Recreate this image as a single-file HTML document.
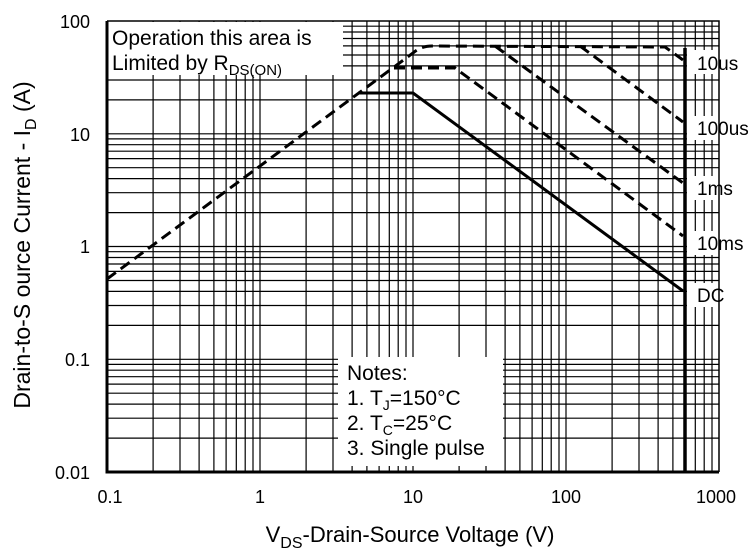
<!DOCTYPE html>
<html><head><meta charset="utf-8"><style>
html,body{margin:0;padding:0;background:#fff;}
svg{display:block;font-family:"Liberation Sans",Arial,sans-serif;}
</style></head><body>
<svg width="755" height="553" viewBox="0 0 755 553" xmlns="http://www.w3.org/2000/svg">
<g stroke="#000" stroke-width="1.2" fill="none">
<path d="M153.1 21V472M180 21V472M199.1 21V472M213.9 21V472M226.1 21V472M236.3 21V472M245.2 21V472M253 21V472
M260 21V472M306.1 21V472M333 21V472M352.1 21V472M366.9 21V472M379.1 21V472M389.3 21V472M398.2 21V472M406 21V472
M413 21V472M459.1 21V472M486 21V472M505.1 21V472M519.9 21V472M532.1 21V472M542.3 21V472M551.2 21V472M559 21V472
M566 21V472M612.1 21V472M639 21V472M658.1 21V472M672.9 21V472M685.1 21V472M695.3 21V472M704.2 21V472M712 21V472"/>
<path d="M107 438.1H719M107 418.2H719M107 404.1H719M107 393.2H719M107 384.1H719M107 376.7H719M107 370.2H719M107 364.4H719
M107 359.3H719M107 325.4H719M107 305.5H719M107 291.4H719M107 280.5H719M107 271.4H719M107 264H719M107 257.5H719M107 251.7H719
M107 246.5H719M107 212.6H719M107 192.7H719M107 178.6H719M107 167.7H719M107 158.6H719M107 151.2H719M107 144.7H719M107 138.9H719
M107 133.8H719M107 99.9H719M107 80H719M107 65.9H719M107 55H719M107 45.9H719M107 38.5H719M107 32H719M107 26.2H719"/>
</g>
<g fill="#fff">
<rect x="108" y="22" width="235" height="53"/>
<rect x="338" y="357" width="165" height="109"/>
<rect x="687" y="50" width="62" height="24"/>
<rect x="687" y="116" width="66" height="24"/>
<rect x="687" y="176" width="52" height="24"/>
<rect x="687" y="231" width="64" height="24"/>
<rect x="687" y="283" width="42" height="24"/>
</g>
<path d="M107 21H719V472" stroke="#000" stroke-width="1.5" fill="none"/>
<path d="M107 21V472H719" stroke="#000" stroke-width="3" fill="none"/>
<g fill="none" stroke="#000" stroke-width="3" stroke-dasharray="11 6">
<path d="M107 279L413 53Q421 46 432 46L665 47L683 60"/>
<path d="M580 46L683 122"/>
<path d="M495 46L683 183"/>
<path d="M394 68L455 68L683 236"/>
</g>
<path d="M358 93L413 93L683 291" fill="none" stroke="#000" stroke-width="3"/>
<path d="M685 48V472" stroke="#000" stroke-width="3.5"/>
<g font-size="21" fill="#000">
<text x="112" y="45">Operation this area is</text>
<text x="112" y="70">Limited  by R<tspan font-size="15" dy="5">DS(ON)</tspan></text>
</g>
<g font-size="19" fill="#000">
<text x="697" y="70">10us</text>
<text x="697" y="135">100us</text>
<text x="697" y="195">1ms</text>
<text x="697" y="250">10ms</text>
<text x="697" y="302">DC</text>
</g>
<g font-size="21" fill="#000">
<text x="347" y="380">Notes:</text>
<text x="347" y="405">1. T<tspan font-size="14" dy="5">J</tspan><tspan dy="-5">=150°C</tspan></text>
<text x="347" y="430">2. T<tspan font-size="14" dy="5">C</tspan><tspan dy="-5">=25°C</tspan></text>
<text x="347" y="455">3. Single pulse</text>
</g>
<g font-size="18" fill="#000" text-anchor="end">
<text x="90" y="28">100</text>
<text x="90" y="141">10</text>
<text x="90" y="253">1</text>
<text x="90" y="366">0.1</text>
<text x="90" y="479">0.01</text>
</g>
<g font-size="18" fill="#000" text-anchor="middle">
<text x="110" y="503">0.1</text>
<text x="260" y="503">1</text>
<text x="413" y="503">10</text>
<text x="566" y="503">100</text>
<text x="716" y="503">1000</text>
</g>
<text x="410" y="542" font-size="22" text-anchor="middle">V<tspan font-size="16" dy="6">DS</tspan><tspan dy="-6">-Drain-Source Voltage (V)</tspan></text>
<text transform="translate(30 245) rotate(-90)" font-size="23" text-anchor="middle">Drain-to-S ource Current - I<tspan font-size="16" dy="6">D</tspan><tspan dy="-6"> (A)</tspan></text>
</svg>
</body></html>
